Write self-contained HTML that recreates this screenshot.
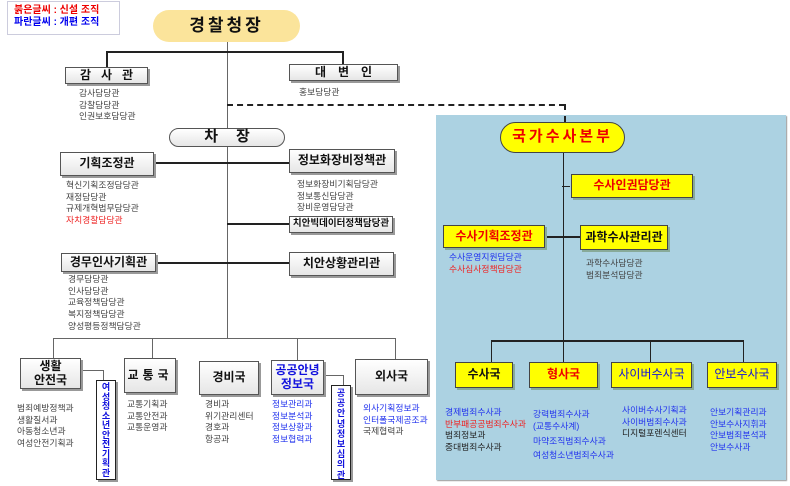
<!DOCTYPE html>
<html><head><meta charset="utf-8"><style>
*{margin:0;padding:0;box-sizing:border-box}
body{width:790px;height:486px;background:#fff;position:relative;overflow:hidden;font-family:"Liberation Sans","Noto Sans CJK KR","NanumGothic",sans-serif}
.a{position:absolute}
.b{position:absolute;background:#fff;border:1px solid #555;box-shadow:2px 2px 0 #999;display:flex;align-items:center;justify-content:center;font-weight:bold;font-size:12px;color:#111;text-align:center;line-height:1.1;white-space:nowrap}
.g{background:linear-gradient(#fff,#e6e6e6)}
.y{background:#ffff00;border:1px solid #444;box-shadow:2px 2px 0 #8a9;}
.l{position:absolute;background:#222}
.t{position:absolute;font-size:8.8px;line-height:11.7px;color:#444;white-space:nowrap}
.bl{color:#2233ee}.rd{color:#ee2222}.bk{color:#222}
.v{position:absolute;background:#fff;border:1.5px solid #222;font-size:9px;font-weight:bold;color:#1111dd;display:flex;justify-content:center;text-align:center;padding-top:2px;box-shadow:2px 2px 0 #999}
</style></head><body>
<div class="a" style="left:436px;top:115px;width:350px;height:365px;background:#acd2e2;box-shadow:1px 1px 1px #999"></div>

<div class="a" style="left:7px;top:1px;width:113px;height:34px;border:1px solid #ccd;font-size:10px;font-weight:bold;line-height:12px;padding:3px 0 0 6px"><div style="color:#e00">붉은글씨 : 신설 조직</div><div style="color:#00e">파란글씨 : 개편 조직</div></div>

<div class="l" style="left:227px;top:42px;width:1px;height:297px;background:#666"></div>
<div class="l" style="left:106px;top:51px;width:238px;height:2px"></div>
<div class="l" style="left:106px;top:51px;width:2px;height:16px"></div>
<div class="l" style="left:342px;top:51px;width:2px;height:14px"></div>
<div class="a" style="left:227px;top:104px;width:338px;border-top:2px dashed #222"></div>
<div class="a" style="left:564px;top:104px;height:18px;border-left:2px dashed #222"></div>
<div class="l" style="left:154px;top:162px;width:135px;height:2px"></div>
<div class="l" style="left:227px;top:223px;width:62px;height:2px"></div>
<div class="l" style="left:156px;top:262px;width:133px;height:2px"></div>
<div class="l" style="left:53px;top:338px;width:343px;height:1px;background:#666"></div>
<div class="l" style="left:53px;top:338px;width:1px;height:20px;background:#666"></div>
<div class="l" style="left:152px;top:338px;width:1px;height:20px;background:#666"></div>
<div class="l" style="left:297px;top:338px;width:1px;height:22px;background:#666"></div>
<div class="l" style="left:395px;top:338px;width:1px;height:21px;background:#666"></div>
<div class="l" style="left:81px;top:370px;width:22px;height:1px;background:#666"></div>
<div class="l" style="left:103px;top:370px;width:1px;height:10px;background:#666"></div>
<div class="l" style="left:324px;top:375px;width:19px;height:1px;background:#666"></div>
<div class="l" style="left:343px;top:375px;width:1px;height:10px;background:#666"></div>

<div class="b" style="left:153px;top:10px;width:147px;height:32px;border-radius:16px;background:#fbe49b;border:none;box-shadow:none;font-size:17px;letter-spacing:3px">경찰청장</div>
<div class="b g" style="left:65px;top:67px;width:83px;height:17px;font-size:12px;letter-spacing:10px;padding-left:10px">감사관</div>
<div class="t" style="left:79px;top:88px">감사담당관<br>감찰담당관<br>인권보호담당관</div>
<div class="b g" style="left:289px;top:64px;width:109px;height:17px;letter-spacing:12px;padding-left:12px">대변인</div>
<div class="t" style="left:299px;top:87px">홍보담당관</div>
<div class="b g" style="left:169px;top:128px;width:116px;height:19px;border-radius:10px;box-shadow:none;font-size:15px;letter-spacing:18px;padding-left:18px">차장</div>
<div class="b g" style="left:60px;top:152px;width:94px;height:24px">기획조정관</div>
<div class="t" style="left:66px;top:180px">혁신기획조정담당관<br>재정담당관<br>규제개혁법무담당관<br><span class="rd">자치경찰담당관</span></div>
<div class="b g" style="left:289px;top:149px;width:106px;height:24px">정보화장비정책관</div>
<div class="t" style="left:297px;top:179px">정보화장비기획담당관<br>정보통신담당관<br>장비운영담당관</div>
<div class="b g" style="left:289px;top:216px;width:104px;height:17px;font-size:9.5px">치안빅데이터정책담당관</div>
<div class="b g" style="left:61px;top:253px;width:95px;height:19px">경무인사기획관</div>
<div class="t" style="left:68px;top:274px">경무담당관<br>인사담당관<br>교육정책담당관<br>복지정책담당관<br>양성평등정책담당관</div>
<div class="b g" style="left:289px;top:252px;width:105px;height:24px">치안상황관리관</div>

<div class="b g" style="left:20px;top:358px;width:61px;height:31px">생활<br>안전국</div>
<div class="t" style="left:17px;top:403px">범죄예방정책과<br>생활질서과<br>아동청소년과<br>여성안전기획과</div>
<div class="v" style="left:96px;top:380px;width:20px;height:100px;line-height:9.5px">여<br>성<br>청<br>소<br>년<br>안<br>전<br>기<br>획<br>관</div>
<div class="b g" style="left:124px;top:358px;width:52px;height:35px;letter-spacing:4px">교통국</div>
<div class="t" style="left:127px;top:399px">교통기획과<br>교통안전과<br>교통운영과</div>
<div class="b g" style="left:199px;top:361px;width:60px;height:34px">경비국</div>
<div class="t" style="left:205px;top:399px">경비과<br>위기관리센터<br>경호과<br>항공과</div>
<div class="b g" style="left:271px;top:360px;width:53px;height:35px;color:#1111dd">공공안녕<br>정보국</div>
<div class="t bl" style="left:272px;top:399px">정보관리과<br>정보분석과<br>정보상황과<br>정보협력과</div>
<div class="v" style="left:331px;top:385px;width:20px;height:95px;line-height:10.2px">공<br>공<br>안<br>녕<br>정<br>보<br>심<br>의<br>관</div>
<div class="b g" style="left:355px;top:359px;width:73px;height:36px">외사국</div>
<div class="t" style="left:363px;top:403px"><span class="bl">외사기획정보과<br>인터폴국제공조과</span><br>국제협력과</div>

<div class="l" style="left:563px;top:150px;width:1px;height:212px"></div>
<div class="l" style="left:562px;top:186px;width:8px;height:1px"></div>
<div class="l" style="left:545px;top:236px;width:35px;height:2px"></div>
<div class="l" style="left:491px;top:340px;width:253px;height:2px"></div>
<div class="l" style="left:491px;top:340px;width:1px;height:22px"></div>
<div class="l" style="left:650px;top:340px;width:1px;height:22px"></div>
<div class="l" style="left:743px;top:340px;width:1px;height:22px"></div>
<div class="b" style="left:500px;top:122px;width:125px;height:31px;border-radius:16px;background:#ffff00;border:1px solid #444;color:#e00;font-size:15px;letter-spacing:3px;box-shadow:none">국가수사본부</div>
<div class="b y" style="left:571px;top:174px;width:122px;height:24px;color:#e00">수사인권담당관</div>
<div class="b y" style="left:443px;top:225px;width:102px;height:23px;color:#e00">수사기획조정관</div>
<div class="t" style="left:449px;top:252px"><span class="bl">수사운영지원담당관</span><br><span class="rd">수사심사정책담당관</span></div>
<div class="b y" style="left:580px;top:225px;width:88px;height:25px">과학수사관리관</div>
<div class="t" style="left:586px;top:258px">과학수사담당관<br>범죄분석담당관</div>
<div class="b y" style="left:455px;top:362px;width:58px;height:26px">수사국</div>
<div class="b y" style="left:529px;top:362px;width:69px;height:26px;color:#e00">형사국</div>
<div class="b y" style="left:611px;top:362px;width:81px;height:26px;color:#1111dd;font-weight:normal">사이버수사국</div>
<div class="b y" style="left:707px;top:362px;width:70px;height:26px;color:#1111dd;font-weight:normal">안보수사국</div>
<div class="t" style="left:445px;top:407px"><span class="bl">경제범죄수사과</span><br><span class="rd">반부패공공범죄수사과</span><br><span class="bk">범죄정보과<br>중대범죄수사과</span></div>
<div class="t bl" style="left:533px;top:409px">강력범죄수사과<br>(교통수사계)</div>
<div class="t bl" style="left:533px;top:436px">마약조직범죄수사과</div>
<div class="t bl" style="left:533px;top:450px">여성청소년범죄수사과</div>
<div class="t" style="left:622px;top:405px"><span class="bl">사이버수사기획과<br>사이버범죄수사과</span><br><span class="bk">디지털포렌식센터</span></div>
<div class="t bl" style="left:710px;top:407px">안보기획관리과<br>안보수사지휘과<br>안보범죄분석과<br>안보수사과</div>
</body></html>
